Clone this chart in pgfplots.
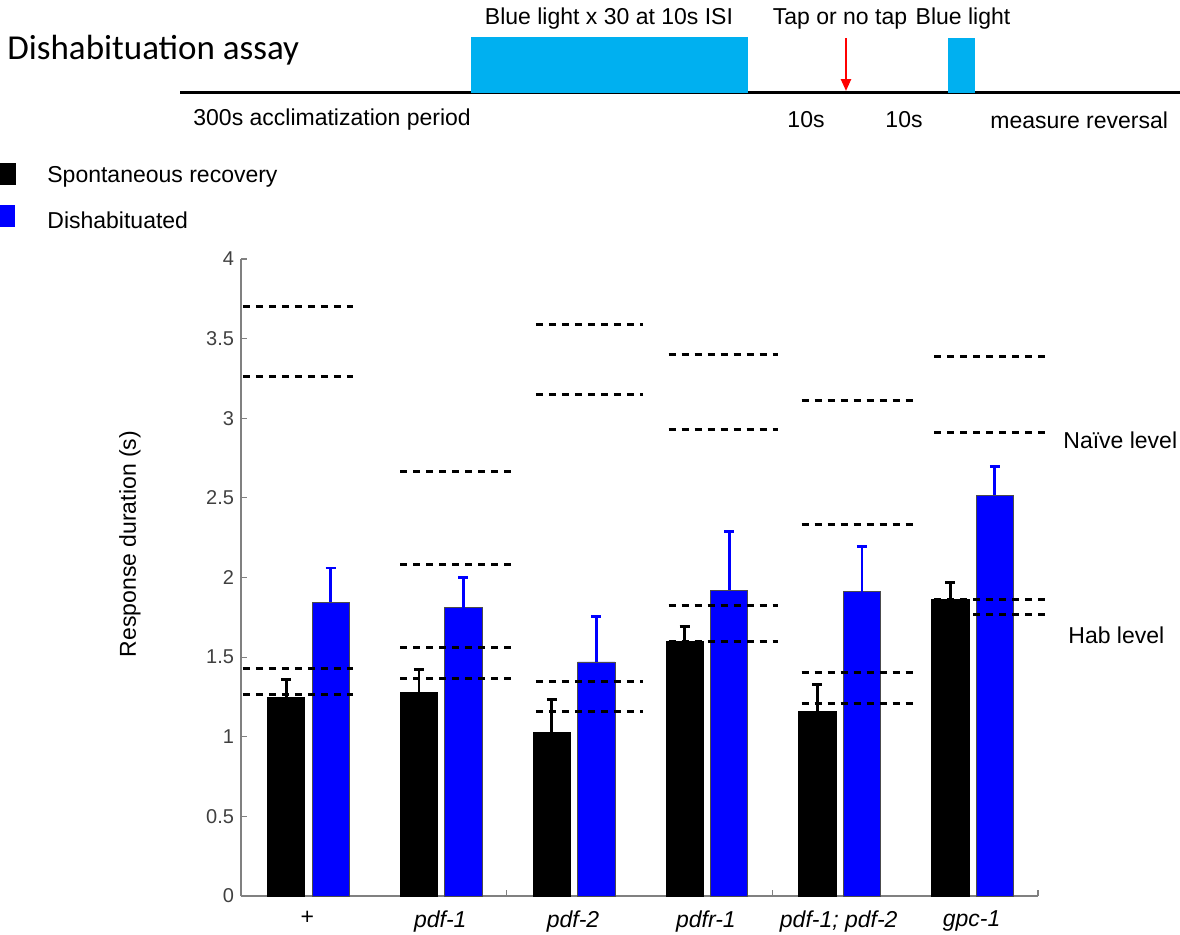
\documentclass[border=0pt]{standalone}
\usepackage{pgfplots}
\usepackage{pgfplotstable}
\pgfplotsset{compat=1.18}
\usetikzlibrary{arrows.meta}
\usepackage{fontspec}
\setmainfont{Liberation Sans}
\newfontfamily\calibri{Carlito}
\definecolor{lightblue}{HTML}{00B0F0}
\definecolor{barblue}{RGB}{0,0,255}
\definecolor{tickgray}{HTML}{404040}

\pgfplotstableread{
x spont spontE dish dishE
1 1.245 0.115 1.845 0.215
2 1.28 0.14 1.81 0.19
3 1.025 0.21 1.47 0.285
4 1.60 0.09 1.92 0.37
5 1.16 0.17 1.91 0.285
6 1.86 0.11 2.515 0.18
}\bardata

\pgfplotstableread{
x y
0.515 3.70
1.345 3.70
nan nan
0.515 3.26
1.345 3.26
nan nan
0.515 1.43
1.345 1.43
nan nan
0.515 1.265
1.345 1.265
nan nan
1.70 2.665
2.53 2.665
nan nan
1.70 2.08
2.53 2.08
nan nan
1.70 1.56
2.53 1.56
nan nan
1.70 1.365
2.53 1.365
nan nan
2.72 3.59
3.53 3.59
nan nan
2.72 3.15
3.53 3.15
nan nan
2.72 1.35
3.53 1.35
nan nan
2.72 1.16
3.53 1.16
nan nan
3.72 3.40
4.545 3.40
nan nan
3.72 2.93
4.545 2.93
nan nan
3.72 1.825
4.545 1.825
nan nan
3.72 1.60
4.545 1.60
nan nan
4.72 3.11
5.56 3.11
nan nan
4.72 2.33
5.56 2.33
nan nan
4.72 1.405
5.56 1.405
nan nan
4.72 1.21
5.56 1.21
nan nan
5.72 3.39
6.55 3.39
nan nan
5.72 2.91
6.55 2.91
nan nan
5.72 1.86
6.55 1.86
nan nan
5.72 1.765
6.55 1.765
}\dashdata

\begin{document}
\begin{tikzpicture}
\useasboundingbox (0,0) rectangle (590pt,-467pt);
\begin{axis}[
  at={(120.5pt,-448pt)}, anchor=south west,
  scale only axis, width=398.5pt, height=318.5pt,
  xmin=0.5, xmax=6.5, ymin=0, ymax=4,
  clip=false,
  axis x line*=bottom, axis y line*=left,
  x axis line style={-, draw=gray, line width=0.8pt},
  y axis line style={-, draw=gray, line width=0.8pt},
  tick align=inside,
  major tick length=3pt,
  ytick={0,0.5,...,4},
  ytick style={draw=gray, line width=0.6pt},
  yticklabel style={font=\fontsize{10}{12}\selectfont, text=tickgray},
  /pgf/number format/assume math mode=true,
  xtick={1,2,3,4,5,6},
  xticklabels={+, \textit{pdf-1}, \textit{pdf-2}, \textit{pdfr-1}, \textit{pdf-1; pdf-2}, \textit{gpc-1}},
  xticklabel style={font=\fontsize{11.5}{13}\selectfont, text=black, yshift=-4pt},
  xtick style={draw=none},
  extra x ticks={2.5,4.5,6.5},
  extra x tick labels={},
  extra x tick style={xtick style={draw=gray, line width=0.6pt}},
  unbounded coords=jump,
]
\addplot[ybar, bar width=0.28, bar shift=0pt, fill=black, draw=black,
  error bars/.cd, y dir=plus, y explicit,
  error bar style={line width=1.4pt, black},
  error mark options={rotate=90, line width=1.4pt, mark size=2.5pt, black}]
  table[x expr=\thisrow{x}-0.16, y=spont, y error=spontE]{\bardata};
\addplot[ybar, bar width=0.28, bar shift=0pt, fill=barblue, draw=black!70, line width=0.4pt,
  error bars/.cd, y dir=plus, y explicit,
  error bar style={line width=1.4pt, barblue},
  error mark options={rotate=90, line width=1.4pt, mark size=2.5pt, barblue}]
  table[x expr=\thisrow{x}+0.175, y=dish, y error=dishE]{\bardata};
\addplot[black, line width=1.5pt, dash pattern=on 3.5pt off 3pt, no marks] table[x=x, y=y]{\dashdata};
\end{axis}

\begin{scope}[x=0.5pt, y=-0.5pt, font=\fontsize{11.5}{13}\selectfont]
  % schematic
  \node[font=\calibri\fontsize{17.5}{20}\selectfont, anchor=west, inner sep=0] at (7,50) {Dishabituation assay};
  \fill[black] (180,90.5) rectangle (1180,94);
  \fill[lightblue] (471,37) rectangle (748,93);
  \fill[lightblue] (948,38) rectangle (975,93);
  \draw[red, line width=1.2pt, -{Triangle[length=6pt, width=5pt]}] (846,38) -- (846,91);
  \node at (609,19) {Blue light x 30 at 10s ISI};
  \node at (840,19) {Tap or no tap};
  \node at (963,19) {Blue light};
  \node[anchor=west, inner sep=0] at (193,120) {300s acclimatization period};
  \node at (806,120) {10s};
  \node at (904,120) {10s};
  \node[anchor=west, inner sep=0] at (990,120) {measure reversal};
  % legend
  \fill[black] (0,163) rectangle (16,185);
  \fill[barblue] (0,205) rectangle (15,227);
  \node[anchor=west, inner sep=0] at (47,177) {Spontaneous recovery};
  \node[anchor=west, inner sep=0] at (47,220) {Dishabituated};
  % side labels
  \node[anchor=west, inner sep=0] at (1063,440) {Na\"ive level};
  \node[anchor=west, inner sep=0] at (1068,635) {Hab level};
  \node[rotate=90] at (130,544) {Response duration (s)};
\end{scope}
\end{tikzpicture}
\end{document}
